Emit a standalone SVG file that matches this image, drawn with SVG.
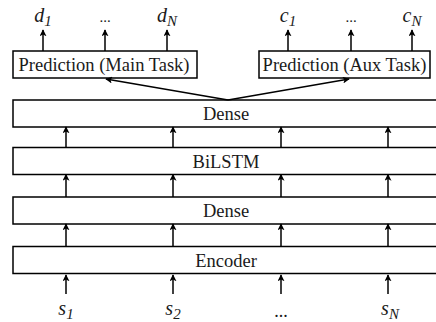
<svg xmlns="http://www.w3.org/2000/svg" width="436" height="322" viewBox="0 0 436 322">
<defs>
<marker id="ah" viewBox="0 0 10 10" refX="9" refY="5" markerWidth="7" markerHeight="7" markerUnits="userSpaceOnUse" orient="auto">
<path d="M0,0 L10,5 L0,10 L2.5,5 Z" fill="#000"/>
</marker>
<style>
text{font-family:'Liberation Serif',serif;fill:#1a1a1a;text-anchor:middle}
.box{fill:#fff;stroke:#000;stroke-width:1.5}
.lbl{font-size:18.5px}
.var{font-size:20px;font-style:italic}
.sub{font-size:15px}
.dots{font-size:15px}
.arr{stroke:#000;stroke-width:1.5;fill:none;marker-end:url(#ah)}
</style>
</defs>
<rect width="436" height="322" fill="#fff"/>
<g id="pred_main"><rect class="box" x="13" y="51" width="184" height="27"/><text class="lbl" x="104" y="71">Prediction (Main Task)</text></g>
<g id="pred_aux"><rect class="box" x="259" y="51" width="171" height="27"/><text class="lbl" x="344.5" y="71">Prediction (Aux Task)</text></g>
<g id="dense_top"><rect class="box" x="13" y="100" width="428" height="27"/><text class="lbl" x="226" y="120">Dense</text></g>
<g id="bilstm"><rect class="box" x="13" y="147.5" width="428" height="27"/><text class="lbl" x="226" y="167.5">BiLSTM</text></g>
<g id="dense_mid"><rect class="box" x="13" y="197" width="428" height="27"/><text class="lbl" x="226" y="217">Dense</text></g>
<g id="encoder"><rect class="box" x="13" y="246.5" width="428" height="27"/><text class="lbl" x="226" y="266.5">Encoder</text></g>
<g id="outputs">
<text class="var" x="43" y="22">d<tspan class="sub" dy="4">1</tspan></text>
<text class="dots" x="105" y="22">...</text>
<text class="var" x="167" y="22">d<tspan class="sub" dy="4">N</tspan></text>
<text class="var" x="288" y="22">c<tspan class="sub" dy="4">1</tspan></text>
<text class="dots" x="351" y="22">...</text>
<text class="var" x="412" y="22">c<tspan class="sub" dy="4">N</tspan></text>
</g>
<g id="inputs">
<text class="var" x="66" y="315">s<tspan class="sub" dy="4">1</tspan></text>
<text class="var" x="173" y="315">s<tspan class="sub" dy="4">2</tspan></text>
<text class="dots" x="281" y="317" style="font-size:18px">...</text>
<text class="var" x="390" y="315">s<tspan class="sub" dy="4">N</tspan></text>
</g>
<g id="connectors">
<line class="arr" x1="43" y1="51" x2="43" y2="30"/>
<line class="arr" x1="105" y1="51" x2="105" y2="30"/>
<line class="arr" x1="167" y1="51" x2="167" y2="30"/>
<line class="arr" x1="288" y1="51" x2="288" y2="30"/>
<line class="arr" x1="351" y1="51" x2="351" y2="30"/>
<line class="arr" x1="412" y1="51" x2="412" y2="30"/>
<line class="arr" x1="228" y1="100" x2="106" y2="79"/>
<line class="arr" x1="228" y1="100" x2="349" y2="79"/>
<line class="arr" x1="66" y1="147.5" x2="66" y2="127"/>
<line class="arr" x1="173" y1="147.5" x2="173" y2="127"/>
<line class="arr" x1="281" y1="147.5" x2="281" y2="127"/>
<line class="arr" x1="388" y1="147.5" x2="388" y2="127"/>
<line class="arr" x1="66" y1="197" x2="66" y2="174.5"/>
<line class="arr" x1="173" y1="197" x2="173" y2="174.5"/>
<line class="arr" x1="281" y1="197" x2="281" y2="174.5"/>
<line class="arr" x1="388" y1="197" x2="388" y2="174.5"/>
<line class="arr" x1="66" y1="246.5" x2="66" y2="224"/>
<line class="arr" x1="173" y1="246.5" x2="173" y2="224"/>
<line class="arr" x1="281" y1="246.5" x2="281" y2="224"/>
<line class="arr" x1="388" y1="246.5" x2="388" y2="224"/>
<line class="arr" x1="66" y1="294" x2="66" y2="275"/>
<line class="arr" x1="173" y1="294" x2="173" y2="275"/>
<line class="arr" x1="281" y1="294" x2="281" y2="275"/>
<line class="arr" x1="388" y1="294" x2="388" y2="275"/>
</g>
</svg>
